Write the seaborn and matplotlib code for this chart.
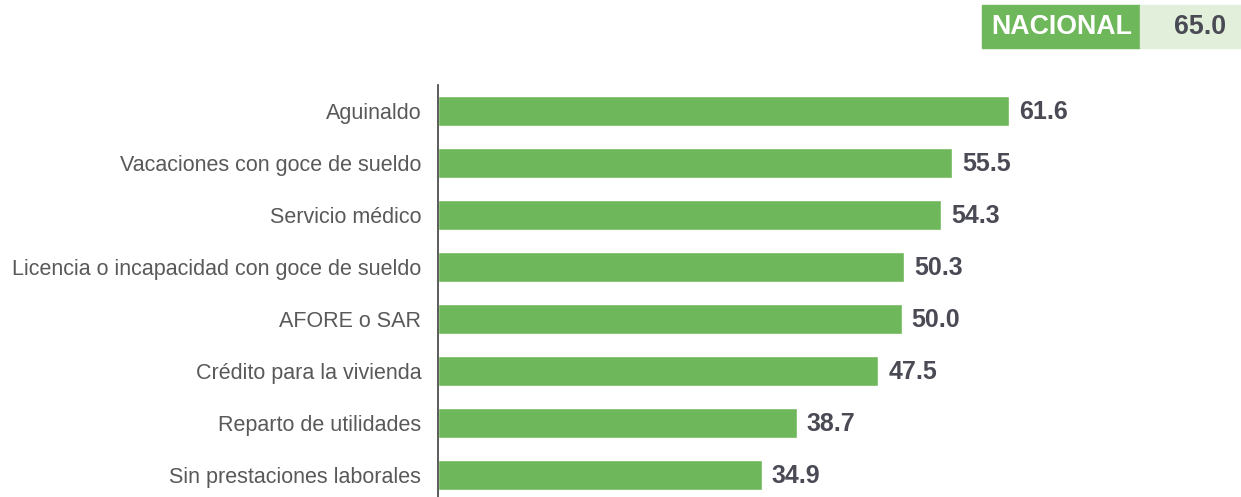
import matplotlib
matplotlib.use("Agg")
import matplotlib.pyplot as plt
import seaborn as sns
import pandas as pd

categories = ["Aguinaldo", "Vacaciones con goce de sueldo", "Servicio médico",
              "Licencia o incapacidad con goce de sueldo", "AFORE o SAR",
              "Crédito para la vivienda", "Reparto de utilidades",
              "Sin prestaciones laborales"]
values = [61.6, 55.5, 54.3, 50.3, 50.0, 47.5, 38.7, 34.9]
national_label = "NACIONAL"
national_value = 65.0

sns.set_theme(style="white")
plt.rcParams['font.family'] = ['Liberation Sans', 'DejaVu Sans']

W, H = 1241, 497
fig = plt.figure(figsize=(W / 100, H / 100), dpi=100)
ax = fig.add_axes([438 / W, (H - 501) / H, (W - 438) / W, 416 / H])

df = pd.DataFrame({"cat": categories, "val": values})
green = "#6eb75a"
sns.barplot(data=df, x="val", y="cat", orient="h", color=green, saturation=1,
            width=0.56, ax=ax)
ax.set_xlim(0, (W - 438) / 9.27)
ax.set_ylim(7.5, -0.5)
ax.set_xlabel("")
ax.set_ylabel("")
ax.set_xticks([])
for s in ["top", "right", "bottom"]:
    ax.spines[s].set_visible(False)
ax.spines["left"].set_color("#404040")
ax.spines["left"].set_linewidth(1.2)
ax.tick_params(axis="y", length=0, pad=12, labelsize=15.5, labelcolor="#595959")

for i, v in enumerate(values):
    ax.text(v + 1.1, i + 0.02, f"{v:.1f}", va="center", ha="left", fontsize=18,
            fontweight="bold", color="#4a4a55")

# NACIONAL box
fig.patches.append(plt.Rectangle((982 / W, 1 - 48 / H), 158 / W, 43 / H,
                                 transform=fig.transFigure, color="#6eb75a"))
fig.patches.append(plt.Rectangle((1140 / W, 1 - 48 / H), 100 / W, 43 / H,
                                 transform=fig.transFigure, color="#e2efda"))
fig.text(1062 / W, 1 - 26.5 / H, national_label, ha="center", va="center",
         fontsize=19.3, fontweight="bold", color="white")
fig.text(1200 / W, 1 - 26.5 / H, f"{national_value:.1f}", ha="center", va="center",
         fontsize=19.3, fontweight="bold", color="#4a4a55")

fig.savefig("out.png", dpi=100)
